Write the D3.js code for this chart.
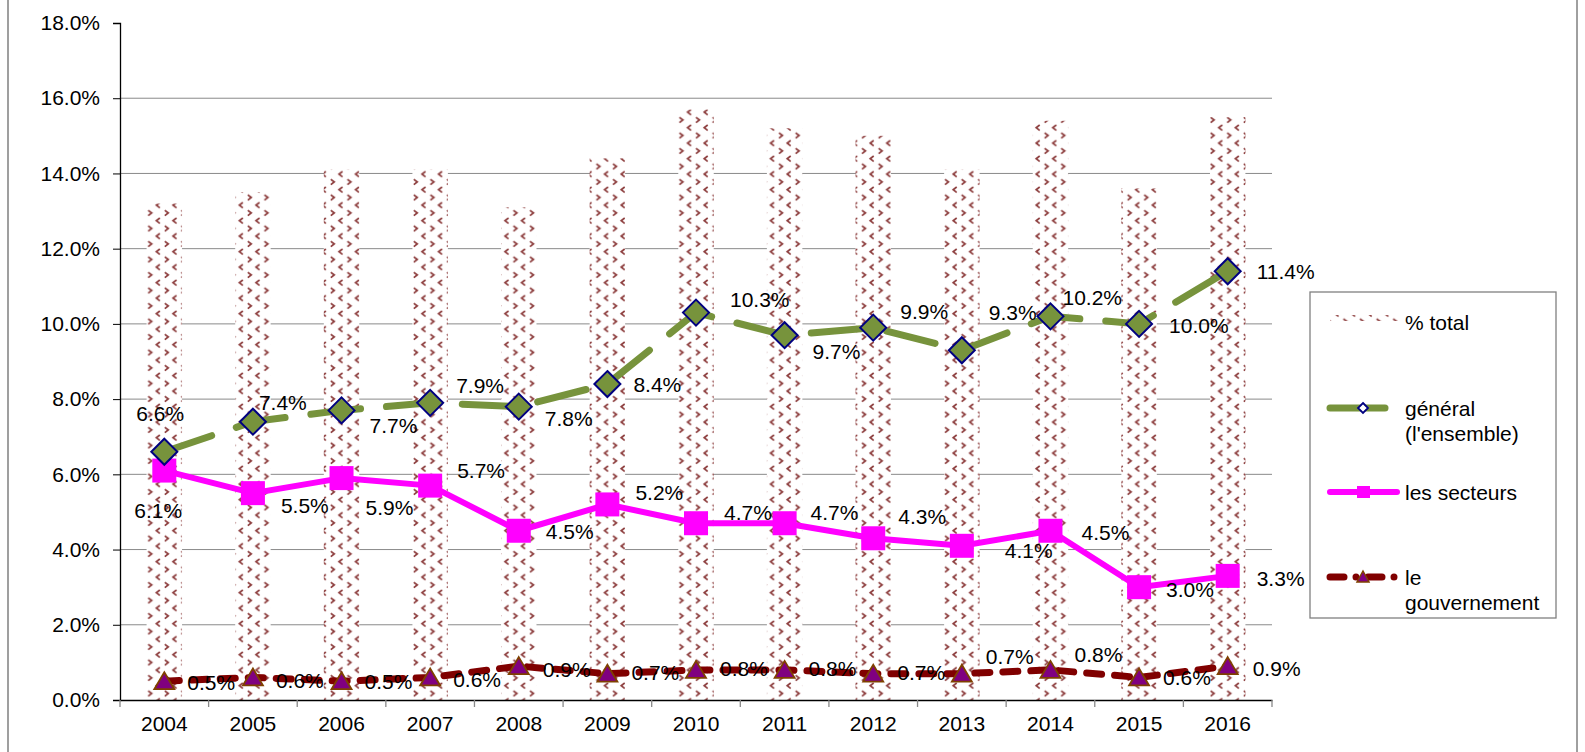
<!DOCTYPE html>
<html>
<head>
<meta charset="utf-8">
<script src="https://cdn.jsdelivr.net/npm/d3@7"></script>
<style>
	body { margin: 0; background: #fff; }
	svg { display: block; font-family: 'Liberation Sans', Arial, sans-serif; }
</style>
</head>
<body>
<div class="svg-container"></div>
<script>
// data
const years = ['2004', '2005', '2006', '2007', '2008', '2009', '2010', '2011', '2012', '2013', '2014', '2015', '2016'];
const totalPct = [13.2, 13.5, 14.1, 14.1, 13.1, 14.4, 15.7, 15.2, 15.0, 14.1, 15.4, 13.6, 15.5];
const generalPct = [6.6, 7.4, 7.7, 7.9, 7.8, 8.4, 10.3, 9.7, 9.9, 9.3, 10.2, 10.0, 11.4];
const secteursPct = [6.1, 5.5, 5.9, 5.7, 4.5, 5.2, 4.7, 4.7, 4.3, 4.1, 4.5, 3.0, 3.3];
const gouvPct = [0.5, 0.6, 0.5, 0.6, 0.9, 0.7, 0.8, 0.8, 0.7, 0.7, 0.8, 0.6, 0.9];
const yTicks = [0, 2, 4, 6, 8, 10, 12, 14, 16, 18];

// label placement (dx from marker centre to text start, dy vertical shift)
const generalLblDx = [-28, 6, 28, 26, 26, 26, 34, 28, 27, 27, 12, 30, 29];
const generalLblDy = [-38, -19, 15, -17, 12, 0, -13, 16, -16, -38, -19, 2, 0];
const secteursLblDx = [-30, 28, 24, 27, 27, 28, 28, 26, 25, 43, 31, 27, 29];
const secteursLblDy = [40, 12, 29, -15, 1, -12, -11, -11, -22, 5, 2, 2, 3];
const gouvLblDx = [23, 23, 23, 23, 24, 24, 24, 24, 24, 24, 24, 24, 25];
const gouvLblDy = [1, 3, 0, 2, 3, -1, -1, -1, -1, -17, -15, 0, 2];

const w = 1585;
const h = 752;
const fontSize = 21;

const svg = d3
	.select('.svg-container')
	.append('svg')
	.attr('width', w)
	.attr('height', h)
	.style('background-color', '#fff');

// chart area border
svg.append('rect')
	.attr('x', 8).attr('y', -5)
	.attr('width', 1569).attr('height', h + 10)
	.attr('fill', 'none')
	.attr('stroke', '#808080')
	.attr('stroke-width', 1.5);

// chevron pattern for the bars
const defs = svg.append('defs');
const pat = defs.append('pattern')
	.attr('id', 'chev')
	.attr('patternUnits', 'userSpaceOnUse')
	.attr('width', 16.6)
	.attr('height', 15.5);
pat.append('rect').attr('width', 16.6).attr('height', 15.5).attr('fill', '#fff');
const chevStyle = p => p.attr('fill', 'none').attr('stroke', '#8c3c3c').attr('stroke-width', 1.7);
pat.append('path').attr('d', 'M10.5,1 L7,3.7 L10.5,6.4').call(chevStyle);
pat.append('path').attr('d', 'M-1.2,8.8 L2.3,11.5 L-1.2,14.2').call(chevStyle);
pat.append('path').attr('d', 'M15.4,8.8 L18.9,11.5 L15.4,14.2').call(chevStyle);

const x = d3.scaleBand().domain(years).range([120, 1272]).padding(0);
const y = d3.scaleLinear().domain([0, 18]).range([700, 23]);
const cx = d => x(d) + x.bandwidth() / 2;

// gridlines
svg.append('g')
	.selectAll('line')
	.data(yTicks.filter(t => t > 0 && t < 18))
	.enter()
	.append('line')
	.attr('x1', 120).attr('x2', 1272)
	.attr('y1', d => y(d)).attr('y2', d => y(d))
	.attr('stroke', '#8a8a8a')
	.attr('stroke-width', 1);

// bars (% total)
const barW = x.bandwidth() * 0.4;
svg.append('g')
	.selectAll('rect')
	.data(years)
	.enter()
	.append('rect')
	.attr('x', d => cx(d) - barW / 2)
	.attr('y', (d, i) => y(totalPct[i]))
	.attr('width', barW)
	.attr('height', (d, i) => y(0) - y(totalPct[i]))
	.attr('fill', 'url(#chev)');

// axes
const yAxis = d3.axisLeft(y).tickValues(yTicks).tickSize(7).tickPadding(13)
	.tickFormat(d => d.toFixed(1) + '%');
const gy = svg.append('g').attr('transform', 'translate(120,0)').call(yAxis);
gy.select('.domain').attr('stroke', '#000').attr('stroke-width', 1.3);
gy.selectAll('.tick line').attr('stroke', '#000');
gy.selectAll('text').attr('font-size', fontSize).attr('fill', '#000')
	.attr('font-family', "'Liberation Sans', Arial, sans-serif");

const xAxis = d3.axisBottom(x).tickSize(0).tickPadding(16);
const gx = svg.append('g').attr('transform', 'translate(0,700)').call(xAxis);
gx.select('.domain').attr('stroke', '#000').attr('stroke-width', 1.3);
gx.selectAll('text').attr('font-size', fontSize).attr('fill', '#000')
	.attr('font-family', "'Liberation Sans', Arial, sans-serif");
// tick marks between categories
svg.append('g')
	.selectAll('line')
	.data(years.concat(['end']))
	.enter()
	.append('line')
	.attr('x1', (d, i) => i < years.length ? x(d) : 1272)
	.attr('x2', (d, i) => i < years.length ? x(d) : 1272)
	.attr('y1', 700).attr('y2', 707)
	.attr('stroke', '#888')
	.attr('stroke-width', 1.3);

const line = vals => d3.line()
	.x((d, i) => cx(years[i]))
	.y(d => y(d))(vals);

// le gouvernement
svg.append('path')
	.attr('d', line(gouvPct))
	.attr('fill', 'none')
	.attr('stroke', '#800000')
	.attr('stroke-width', 7)
	.attr('stroke-linecap', 'round')
	.attr('stroke-dasharray', '15,13');

// les secteurs
svg.append('path')
	.attr('d', line(secteursPct))
	.attr('fill', 'none')
	.attr('stroke', '#ff00ff')
	.attr('stroke-width', 6)
	.attr('stroke-linejoin', 'round');

// général
svg.append('path')
	.attr('d', line(generalPct))
	.attr('fill', 'none')
	.attr('stroke', '#77933c')
	.attr('stroke-width', 7)
	.attr('stroke-linecap', 'round')
	.attr('stroke-dasharray', '50,26');

// markers
svg.append('g')
	.selectAll('path')
	.data(gouvPct)
	.enter()
	.append('path')
	.attr('d', 'M0,-9 L10,8 L-10,8 Z')
	.attr('transform', (d, i) => `translate(${cx(years[i])},${y(d)})`)
	.attr('fill', '#800080')
	.attr('stroke', '#7f4000')
	.attr('stroke-width', 1.8);

svg.append('g')
	.selectAll('rect')
	.data(secteursPct)
	.enter()
	.append('rect')
	.attr('x', (d, i) => cx(years[i]) - 12)
	.attr('y', d => y(d) - 12)
	.attr('width', 24)
	.attr('height', 24)
	.attr('fill', '#ff00ff');

svg.append('g')
	.selectAll('path')
	.data(generalPct)
	.enter()
	.append('path')
	.attr('d', 'M0,-13 L13,0 L0,13 L-13,0 Z')
	.attr('transform', (d, i) => `translate(${cx(years[i])},${y(d)})`)
	.attr('fill', '#77933c')
	.attr('stroke', '#000080')
	.attr('stroke-width', 2);

// data labels
function labels(vals, dxs, dys) {
	svg.append('g')
		.selectAll('text')
		.data(vals)
		.enter()
		.append('text')
		.attr('x', (d, i) => cx(years[i]) + dxs[i])
		.attr('y', (d, i) => y(d) + dys[i])
		.attr('dy', '0.36em')
		.attr('font-size', fontSize)
		.text(d => d.toFixed(1) + '%');
}
labels(gouvPct, gouvLblDx, gouvLblDy);
labels(secteursPct, secteursLblDx, secteursLblDy);
labels(generalPct, generalLblDx, generalLblDy);

// legend
const legend = svg.append('g').attr('id', 'legend');
legend.append('rect')
	.attr('x', 1310).attr('y', 292)
	.attr('width', 246).attr('height', 326)
	.attr('fill', '#fff')
	.attr('stroke', '#808080')
	.attr('stroke-width', 1.3);

legend.append('rect')
	.attr('x', 1330).attr('y', 315)
	.attr('width', 68).attr('height', 6)
	.attr('fill', 'url(#chev)');

legend.append('line')
	.attr('x1', 1330).attr('x2', 1385).attr('y1', 408).attr('y2', 408)
	.attr('stroke', '#77933c').attr('stroke-width', 7).attr('stroke-linecap', 'round');
legend.append('path')
	.attr('d', 'M0,-5 L5,0 L0,5 L-5,0 Z')
	.attr('transform', 'translate(1363,408)')
	.attr('fill', '#fff').attr('stroke', '#000080').attr('stroke-width', 1.8);

legend.append('line')
	.attr('x1', 1330).attr('x2', 1397).attr('y1', 492).attr('y2', 492)
	.attr('stroke', '#ff00ff').attr('stroke-width', 6).attr('stroke-linecap', 'round');
legend.append('rect')
	.attr('x', 1357).attr('y', 486).attr('width', 13).attr('height', 12)
	.attr('fill', '#ff00ff');

legend.append('line')
	.attr('x1', 1330).attr('x2', 1397).attr('y1', 577).attr('y2', 577)
	.attr('stroke', '#800000').attr('stroke-width', 7).attr('stroke-linecap', 'round')
	.attr('stroke-dasharray', '14,12,0,12');
legend.append('path')
	.attr('d', 'M0,-6 L6,5 L-6,5 Z')
	.attr('transform', 'translate(1363,577)')
	.attr('fill', '#800080').attr('stroke', '#7f4000').attr('stroke-width', 1.5);

const legendText = [
	{ lines: ['% total'], y: 322 },
	{ lines: ['général', "(l'ensemble)"], y: 408 },
	{ lines: ['les secteurs'], y: 492 },
	{ lines: ['le', 'gouvernement'], y: 577 }
];
legendText.forEach(item => {
	item.lines.forEach((t, j) => {
		legend.append('text')
			.attr('x', 1405)
			.attr('y', item.y + j * 25)
			.attr('dy', '0.36em')
			.attr('font-size', fontSize)
			.text(t);
	});
});
</script>
</body>
</html>
